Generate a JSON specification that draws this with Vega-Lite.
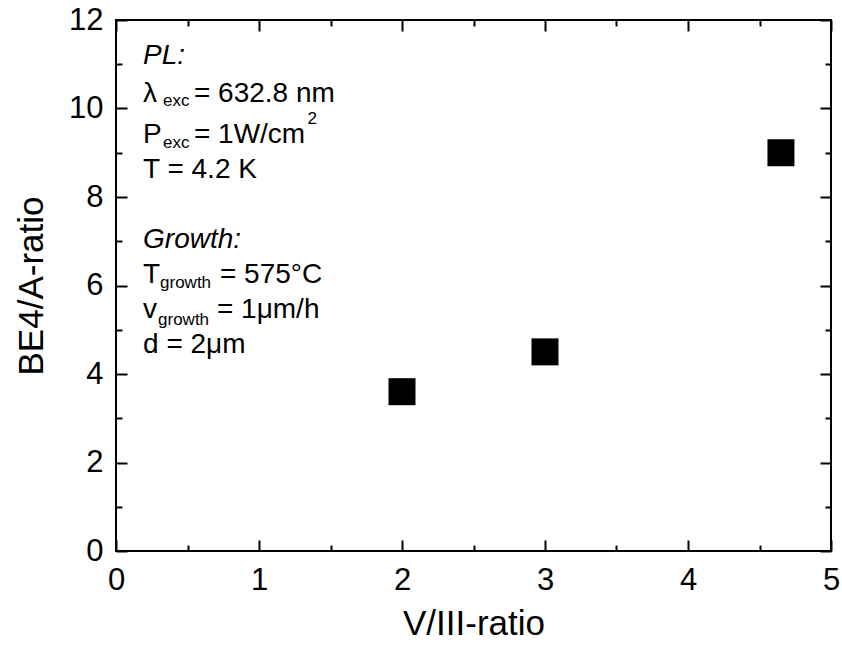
{
  "$schema": "https://vega.github.io/schema/vega-lite/v6.json",
  "width": 715,
  "height": 531,
  "autosize": "none",
  "padding": {"left": 116, "top": 20, "right": 11, "bottom": 97},
  "background": "white",
  "config": {
    "font": "Liberation Sans",
    "view": {"stroke": "black", "strokeWidth": 2},
    "axis": {
      "domain": false,
      "grid": false,
      "tickColor": "black",
      "tickWidth": 2,
      "labelColor": "black",
      "titleColor": "black",
      "labelFont": "Liberation Sans",
      "titleFont": "Liberation Sans",
      "labelFontSize": 31,
      "titleFontSize": 35,
      "titleFontWeight": "normal"
    }
  },
  "datasets": {
    "pts": [
      {"ratio": 2.0, "be4": 3.6},
      {"ratio": 3.0, "be4": 4.5},
      {"ratio": 4.65, "be4": 9.0}
    ],
    "notes": [
      {"txt": "PL:", "role": "italic", "x": 0.189, "y": 11.0},
      {"txt": "λ", "role": "main", "x": 0.189, "y": 10.15},
      {"txt": "exc", "role": "sub", "x": 0.329, "y": 10.06},
      {"txt": "= 632.8 nm", "role": "main", "x": 0.545, "y": 10.15},
      {"txt": "P", "role": "main", "x": 0.189, "y": 9.23},
      {"txt": "exc", "role": "sub", "x": 0.329, "y": 9.1},
      {"txt": "= 1W/cm", "role": "main", "x": 0.545, "y": 9.23},
      {"txt": "2", "role": "sub", "x": 1.34, "y": 9.65},
      {"txt": "T = 4.2 K", "role": "main", "x": 0.189, "y": 8.42},
      {"txt": "Growth:", "role": "italic", "x": 0.189, "y": 6.84},
      {"txt": "T", "role": "main", "x": 0.189, "y": 6.05},
      {"txt": "growth", "role": "sub", "x": 0.308, "y": 5.94},
      {"txt": "= 575°C", "role": "main", "x": 0.727, "y": 6.05},
      {"txt": "v", "role": "main", "x": 0.189, "y": 5.26},
      {"txt": "growth", "role": "sub", "x": 0.294, "y": 5.11},
      {"txt": "= 1μm/h", "role": "main", "x": 0.706, "y": 5.26},
      {"txt": "d = 2μm", "role": "main", "x": 0.189, "y": 4.47}
    ]
  },
  "resolve": {"axis": {"x": "independent", "y": "independent"}},
  "layer": [
    {
      "data": {"name": "pts"},
      "mark": {"type": "point", "shape": "square", "filled": true, "size": 729, "color": "black", "opacity": 1},
      "encoding": {
        "x": {"field": "ratio", "type": "quantitative",
              "scale": {"domain": [0, 5], "nice": false, "zero": false},
              "axis": {"orient": "bottom", "title": "V/III-ratio", "values": [0, 1, 2, 3, 4, 5],
                       "tickSize": -11, "labelPadding": 25, "titlePadding": 11, "labelFlush": false}},
        "y": {"field": "be4", "type": "quantitative",
              "scale": {"domain": [0, 12], "nice": false, "zero": false},
              "axis": {"orient": "left", "title": "BE4/A-ratio", "values": [0, 2, 4, 6, 8, 10, 12],
                       "tickSize": -11, "labelPadding": 24, "titlePadding": 19, "labelFlush": false}}
      }
    },
    {
      "data": {"name": "pts"},
      "mark": {"type": "point", "opacity": 0},
      "encoding": {
        "x": {"field": "ratio", "type": "quantitative",
              "axis": {"orient": "top", "title": null, "labels": false, "values": [0, 1, 2, 3, 4, 5], "tickSize": -11}},
        "y": {"field": "be4", "type": "quantitative",
              "axis": {"orient": "right", "title": null, "labels": false, "values": [0, 2, 4, 6, 8, 10, 12], "tickSize": -11}}
      }
    },
    {
      "data": {"name": "pts"},
      "mark": {"type": "point", "opacity": 0},
      "encoding": {
        "x": {"field": "ratio", "type": "quantitative",
              "axis": {"orient": "bottom", "title": null, "labels": false, "values": [0.5, 1.5, 2.5, 3.5, 4.5], "tickSize": -6}},
        "y": {"field": "be4", "type": "quantitative",
              "axis": {"orient": "left", "title": null, "labels": false, "values": [1, 3, 5, 7, 9, 11], "tickSize": -6}}
      }
    },
    {
      "data": {"name": "pts"},
      "mark": {"type": "point", "opacity": 0},
      "encoding": {
        "x": {"field": "ratio", "type": "quantitative",
              "axis": {"orient": "top", "title": null, "labels": false, "values": [0.5, 1.5, 2.5, 3.5, 4.5], "tickSize": -6}},
        "y": {"field": "be4", "type": "quantitative",
              "axis": {"orient": "right", "title": null, "labels": false, "values": [1, 3, 5, 7, 9, 11], "tickSize": -6}}
      }
    },
    {
      "data": {"name": "notes"},
      "transform": [{"filter": "datum.role === 'main'"}],
      "mark": {"type": "text", "align": "left", "baseline": "alphabetic", "fontSize": 28, "font": "Liberation Sans", "color": "black"},
      "encoding": {
        "x": {"field": "x", "type": "quantitative", "axis": null},
        "y": {"field": "y", "type": "quantitative", "axis": null},
        "text": {"field": "txt"}
      }
    },
    {
      "data": {"name": "notes"},
      "transform": [{"filter": "datum.role === 'italic'"}],
      "mark": {"type": "text", "align": "left", "baseline": "alphabetic", "fontSize": 28, "fontStyle": "italic", "font": "Liberation Sans", "color": "black"},
      "encoding": {
        "x": {"field": "x", "type": "quantitative", "axis": null},
        "y": {"field": "y", "type": "quantitative", "axis": null},
        "text": {"field": "txt"}
      }
    },
    {
      "data": {"name": "notes"},
      "transform": [{"filter": "datum.role === 'sub'"}],
      "mark": {"type": "text", "align": "left", "baseline": "alphabetic", "fontSize": 17, "font": "Liberation Sans", "color": "black"},
      "encoding": {
        "x": {"field": "x", "type": "quantitative", "axis": null},
        "y": {"field": "y", "type": "quantitative", "axis": null},
        "text": {"field": "txt"}
      }
    }
  ]
}
